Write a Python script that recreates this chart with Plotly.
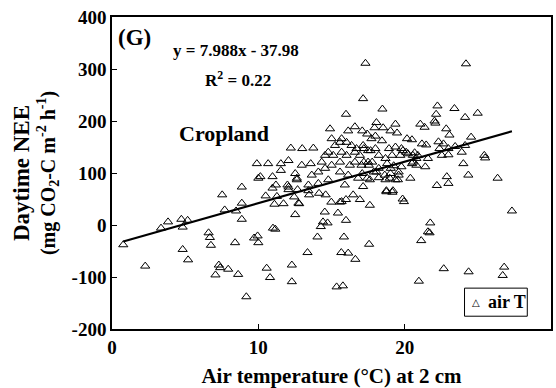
import numpy as np
import plotly.graph_objects as go

# Air temperature (°C) at 2 cm
temp = [0.77, 2.27, 3.35, 3.83, 4.74, 4.83, 5.17, 4.83, 5.2, 6.6, 6.69, 6.76, 7.53, 7.7, 7.3, 7.39, 7.07, 7.94,
        8.41, 8.48, 8.62, 8.87, 8.87, 8.87, 9.18, 9.71, 9.95, 10.0, 10.57, 10.8, 11.0, 10.5, 11.1, 9.9, 10.0,
        11.72, 10.97, 12.06, 11.27, 12.45, 12.79, 12.68, 13.47, 14.15, 14.6, 14.99, 14.54, 15.44, 15.58, 15.99,
        15.85, 15.67, 16.14, 16.63, 16.94, 15.35, 15.78, 14.73, 14.42, 14.27, 14.04, 13.36, 12.29, 12.29, 12.52,
        11.16, 12.74, 17.62, 17.57, 15.99, 15.69, 19.86, 19.95, 18.75, 19.16, 21.75, 21.59, 21.7, 21.13, 20.97,
        22.67, 24.37, 26.8, 26.7, 27.33,
        12.22, 13.0, 13.76, 10.67, 11.54, 12.06, 11.54, 10.14, 10.97, 12.52, 12.97, 12.63, 11.99, 11.2,
        13.58, 14.33, 15.01, 15.69, 16.14, 16.6, 14.9, 16.03, 15.58, 15.24, 14.78, 14.56, 15.12, 15.69, 16.03,
        16.6, 16.94, 16.71, 16.37, 17.16, 17.5, 17.5, 17.05, 16.6, 16.26, 15.58, 15.01, 14.56, 14.1, 13.65,
        15.58, 16.14, 16.82, 17.62, 18.07, 18.64, 18.98, 19.54, 14.78, 14.1, 13.42, 12.63, 15.91, 17.16, 16.48,
        13.42, 12.06, 15.99, 17.16, 17.32, 18.48, 18.07,
        24.19, 22.24, 23.4, 22.15, 22.04, 22.1, 24.13, 24.99, 22.84, 23.06, 24.54, 21.07, 21.36, 19.37, 17.94,
        18.53, 19.03, 19.48, 17.1, 17.44, 17.73, 18.45, 18.0, 20.16, 20.5, 21.18, 21.47, 22.31, 22.65, 22.38,
        22.99, 23.45, 24.13, 23.9, 22.54, 22.99, 21.59, 24.01, 24.35, 22.88, 22.99, 22.2, 20.39, 18.93, 19.37,
        19.78, 20.22, 20.56, 20.8, 19.7, 19.14, 18.69, 18.23, 17.67, 17.21, 18.0, 18.8, 19.25, 19.59, 19.03,
        19.37, 18.23, 17.55, 17.89, 17.78, 17.21, 17.1, 17.44, 18.23, 18.69, 19.78, 20.5, 21.41, 25.44, 25.5,
        26.35, 20.57, 20.8, 19.88, 20.1, 20.68, 20.9, 19.05, 19.59, 18.75, 19.2]

# Daytime NEE (mg CO2-C m-2 h-1)
nee = [-38, -79, -6, 6, 11, -4, 9, -47, -67, -15, -24, -39, 58, 29, -77, -82, -96, -85,
       -34, 27, -95, 11, 42, 73, -138, -25, -21, -34, -83, -101, -6, 56, 40, 118, 90,
       41, 71, 73, 55, 54, 41, 68, 58, 61, 58, 44, 25, 23, 44, 9,
       -23, -53, -54, -66, 49, -119, -117, 4, 6, -3, -23, -53, -77, -109, 20,
       -8, 42, 38, -37, 49, 45, 50, 45, 64, 63, 4, -13, -15, -30, -108,
       -84, -90, -81, -97, 27,
       148, 147, 148, 118, 118, 124, 105, 93, 93, 99, 115, 90, 77, 77,
       118, 121, 166, 166, 181, 189, 185, 159, 159, 153, 140, 134, 134, 140, 134,
       140, 134, 147, 153, 153, 143, 121, 115, 121, 115, 121, 115, 109, 102, 96,
       102, 96, 90, 87, 102, 96, 90, 87, 87, 80, 77, 87, 77, 74, 58,
       66, 68, 213, 243, 311, 223, 197,
       310, 229, 224, 213, 200, 196, 207, 215, 185, 173, 169, 194, 188, 194, 187,
       187, 181, 177, 181, 175, 166, 162, 171, 166, 164, 156, 154, 160, 156, 147,
       147, 151, 153, 140, 134, 135, 128, 118, 96, 93, 80, 76, 90, 147, 150,
       147, 137, 134, 128, 134, 134, 128, 134, 143, 147, 147, 118, 114, 102, 99,
       87, 109, 115, 102, 121, 121, 99, 90, 91, 87, 112, 118, 112, 134, 129,
       90, 121, 115, 143, 140, 139, 134, 109, 96, 66, 66]

slope = 7.988
intercept = -37.98
x_ticks = [0, 10, 20, 30]
y_ticks = [-200, -100, 0, 100, 200, 300, 400]
legend_label = "air T"

FONT = "Liberation Serif"

x_fit = np.array([min(temp), max(temp)])
y_fit = slope * x_fit + intercept

fig = go.Figure()
fig.add_trace(go.Scatter(
    x=temp, y=nee, mode="markers", name=legend_label, showlegend=False,
    marker=dict(symbol="triangle-up-open", size=8, color="black", line=dict(width=1, color="black")),
))
fig.add_trace(go.Scatter(
    x=x_fit, y=y_fit, mode="lines", showlegend=False,
    line=dict(color="black", width=2.2),
))

axis_common = dict(
    showgrid=False, zeroline=False, showline=True, linecolor="black", linewidth=1.5,
    mirror=True, ticks="inside", ticklen=5, tickwidth=1.2, tickcolor="black",
    tickfont=dict(family=FONT, size=19, color="black", weight="bold"),
)

fig.update_xaxes(range=[0, 30], tickvals=x_ticks, ticktext=[str(v) for v in x_ticks], **axis_common,
                 title=dict(text="Air temperature (°C) at 2 cm",
                            font=dict(family=FONT, size=21, color="black", weight="bold"),
                            standoff=13))
fig.update_yaxes(range=[-200, 400], tickvals=y_ticks, ticktext=[str(v) for v in y_ticks], **axis_common,
                 title=dict(text="<span style='font-size:23px'>Daytime NEE</span><br>"
                                 "(mg CO<sub>2</sub>-C m<sup>-2</sup> h<sup>-1</sup>)",
                            font=dict(family=FONT, size=20, color="black", weight="bold"),
                            standoff=11))

def note(text, x, y, size, xanchor="center"):
    fig.add_annotation(text=text, x=x, y=y, xref="paper", yref="paper", showarrow=False,
                       xanchor=xanchor, yanchor="middle",
                       font=dict(family=FONT, size=size, color="black", weight="bold"))

note("(G)", 0.010, 0.934, 23, xanchor="left")
note("y = 7.988x - 37.98", 0.283, 0.893, 17)
note("R<sup>2</sup> = 0.22", 0.286, 0.80, 17)
note("Cropland", 0.254, 0.627, 22)

# legend box drawn manually (compact, like the reference)
fig.add_shape(type="rect", xref="paper", yref="paper", x0=0.803, x1=0.946, y0=0.041, y1=0.131,
              line=dict(color="black", width=1), fillcolor="white", layer="above")
fig.add_annotation(text="\u25b3", x=0.830, y=0.084, xref="paper", yref="paper", showarrow=False,
                   xanchor="center", yanchor="middle",
                   font=dict(family="DejaVu Sans", size=10, color="black"))
fig.add_annotation(text=legend_label, x=0.853, y=0.086, xref="paper", yref="paper", showarrow=False,
                   xanchor="left", yanchor="middle",
                   font=dict(family=FONT, size=18, color="black", weight="bold"))

fig.update_layout(
    width=556, height=388,
    margin=dict(l=112, r=3, t=17, b=55),
    plot_bgcolor="white", paper_bgcolor="white",
    showlegend=False,
)

fig.write_html("out.html")
